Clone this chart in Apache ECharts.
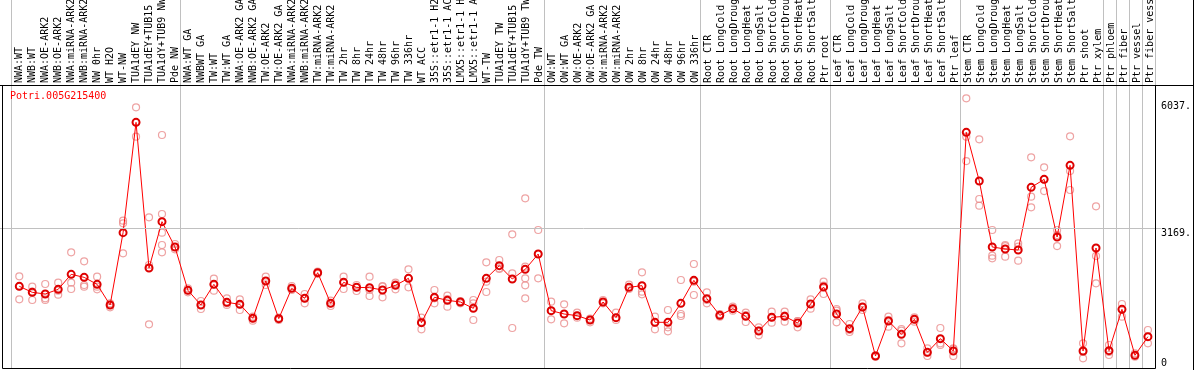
<!DOCTYPE html>
<html>
<head>
<meta charset="utf-8">
<script src="https://cdn.jsdelivr.net/npm/echarts@6.0.0/dist/echarts.min.js"></script>
<style>
html,body{margin:0;padding:0;background:#fff;}
#chart{width:1194px;height:370px;}
</style>
</head>
<body>
<div id="chart"></div>
<script>
const categories = [
  'NWA:WT','NWB:WT','NWA:OE-ARK2','NWB:OE-ARK2','NWA:miRNA-ARK2','NWB:miRNA-ARK2','NW 0hr','WT H2O','WT-NW','TUA1dEY NW','TUA1dEY+TUB15 NW','TUA1dY+TUB9 NW','Pde NW',
  'NWA:WT GA','NWBWT GA','TW:WT','TW:WT GA','NWA:OE-ARK2 GA','NWB:OE-ARK2 GA','TW:OE-ARK2','TW:OE-ARK2 GA','NWA:miRNA-ARK2 GA','NWB:miRNA-ARK2 GA','TW:miRNA-ARK2','TW:miRNA-ARK2 GA','TW 2hr','TW 8hr','TW 24hr','TW 48hr','TW 96hr','TW 336hr','WT ACC','35S::etr1-1 H2O','35S::etr1-1 ACC','LMX5::etr1-1 H2O','LMX5::etr1-1 ACC','WT-TW','TUA1dEY TW','TUA1dEY+TUB15 TW','TUA1dY+TUB9 TW','Pde TW',
  'OW:WT','OW:WT GA','OW:OE-ARK2','OW:OE-ARK2 GA','OW:miRNA-ARK2','OW:miRNA-ARK2 GA','OW 2hr','OW 8hr','OW 24hr','OW 48hr','OW 96hr','OW 336hr',
  'Root CTR','Root LongCold','Root LongDrought','Root LongHeat','Root LongSalt','Root ShortCold','Root ShortDrought','Root ShortHeat','Root ShortSalt','Ptr root',
  'Leaf CTR','Leaf LongCold','Leaf LongDrought','Leaf LongHeat','Leaf LongSalt','Leaf ShortCold','Leaf ShortDrought','Leaf ShortHeat','Leaf ShortSalt','Ptr leaf',
  'Stem CTR','Stem LongCold','Stem LongDrought','Stem LongHeat','Stem LongSalt','Stem ShortCold','Stem ShortDrought','Stem ShortHeat','Stem ShortSalt','Ptr shoot','Ptr xylem',
  'Ptr phloem','Ptr fiber','Ptr vessel','Ptr fiber vessel'
];

// first category index of each sample group (grey separators)
const groupStarts = [0, 13, 41, 53, 63, 73, 84, 85, 86, 87];

const means = [
  1849, 1713, 1675, 1781, 2120, 2052, 1894, 1426, 3063, 5561, 2264, 3312, 2739,
  1758, 1426, 1894, 1486, 1441, 1124, 1969, 1117, 1803, 1577, 2158, 1464, 1939, 1826, 1818, 1766, 1871, 2030, 1026, 1600, 1532, 1494, 1351, 2030, 2316, 2015, 2233, 2580,
  1298, 1222, 1185, 1086, 1494, 1139, 1826, 1864, 1034, 1034, 1464, 1984,
  1569, 1192, 1343, 1169, 837, 1147, 1169, 1019, 1449, 1833,
  1222, 890, 1381, 272, 1064, 762, 1102, 355, 664, 385,
  5334, 4233, 2739, 2694, 2671, 4089, 4270, 2965, 4587, 385, 2716,
  392, 1328, 287, 709
];

const replicates = [
  [2075, 1849, 1554], [1841, 1728, 1539], [1901, 1577, 1539], [1931, 1750, 1660], [2618, 1931, 1788], [2414, 1879, 1841], [2067, 1841, 1781], [1464, 1426, 1373], [3335, 3274, 2595], [5900, 5561, 5236], [3410, 2331, 988], [5274, 3486, 3063, 2784, 2618], [2807, 2739, 2686],
  [1803, 1758, 1713], [1517, 1426, 1335], [2022, 1894, 1750], [1577, 1464, 1426], [1554, 1441, 1313], [1162, 1124, 1071], [2067, 1969, 1879], [1139, 1117, 1087], [1856, 1803, 1766], [1675, 1577, 1464], [2180, 2158, 2128], [1524, 1464, 1403], [2067, 1939, 1788], [1879, 1826, 1743], [2067, 1766, 1630], [1856, 1841, 1600], [1931, 1894, 1781], [2233, 2030, 1826], [1139, 1049, 875], [1766, 1577, 1464], [1637, 1562, 1388], [1517, 1494, 1464], [1539, 1464, 1086], [2392, 1954, 1720], [2445, 2256, 2241], [3025, 2143, 905], [3840, 2294, 2030, 1871, 1577], [3124, 2580, 2030],
  [1501, 1298, 1102], [1441, 1222, 1011], [1252, 1185, 1139], [1117, 1086, 1034], [1539, 1494, 1464], [1252, 1139, 1086], [1886, 1826, 1788], [2165, 1728, 1667], [1162, 1034, 875], [1313, 920, 830], [1992, 1222, 1177], [2354, 1954, 1652],
  [1713, 1539, 1464], [1222, 1192, 1162], [1388, 1343, 1298], [1252, 1200, 1041], [920, 845, 739], [1275, 1147, 1026], [1275, 1185, 1049], [1064, 1064, 920], [1554, 1449, 1343], [1954, 1864, 1675],
  [1335, 1298, 1034], [996, 860, 815], [1464, 1373, 1313], [287, 272, 257], [1162, 1086, 936], [883, 845, 558], [1147, 1102, 1049], [445, 347, 272], [905, 558, 521], [445, 430, 272],
  [6104, 5236, 4685], [5176, 3825, 3674], [3124, 2543, 2482], [2784, 2761, 2520], [2822, 2746, 2429], [4768, 3878, 3637], [4542, 4263, 4006], [3124, 3010, 2761], [5244, 4459, 4029], [558, 370, 219], [3659, 2535, 1916],
  [521, 362, 294], [1449, 1328, 1162], [332, 287, 256], [860, 709, 558]
];

const yTickLabels = [3169, 6037];
const yZeroLabel = [0];
const refLineValue = 3169;
const geneId = 'Potri.005G215400';
const yMax = 6406;

const MONO = '"DejaVu Sans Mono", "Liberation Mono", monospace';
const repPoints = [];
replicates.forEach((arr, i) => arr.forEach(v => repPoints.push([i, v])));

const chart = echarts.init(document.getElementById('chart'), null, {renderer: 'canvas'});
chart.setOption({
  animation: false,
  backgroundColor: '#fff',
  title: {
    text: geneId, left: 10, top: 91, padding: 0,
    textStyle: {color: '#ff0000', fontSize: 10, fontFamily: MONO, fontWeight: 'normal'}
  },
  grid: [
    {left: 12.8, width: 1144, top: 0, height: 85},
    {left: 12.8, width: 1144, top: 85, bottom: 2},
    {left: 11.3, width: 1144, top: 0, bottom: 2}
  ],
  xAxis: [
    {
      type: 'category', gridIndex: 0, data: categories, position: 'bottom',
      axisLine: {show: false}, axisTick: {show: false}, splitLine: {show: false},
      axisLabel: {inside: true, rotate: 90, interval: 0, margin: 2, align: 'left', verticalAlign: 'middle',
        fontFamily: MONO, fontSize: 10, color: '#000'}
    },
    {type: 'category', gridIndex: 1, data: categories, show: false},
    {
      type: 'category', gridIndex: 2, data: categories,
      axisLine: {show: false}, axisTick: {show: false}, axisLabel: {show: false},
      splitLine: {show: true, interval: (i) => groupStarts.indexOf(i) >= 0, lineStyle: {color: '#c0c0c0', width: 1}}
    }
  ],
  yAxis: [
    {type: 'value', gridIndex: 0, show: false},
    {
      type: 'value', gridIndex: 1, position: 'right', offset: -1.5, min: 0, max: yMax,
      axisLine: {show: false}, splitLine: {show: false},
      axisTick: {show: true, customValues: [refLineValue], length: 8, lineStyle: {color: '#c0c0c0'}},
      axisLabel: {customValues: yTickLabels, formatter: v => v + '.', verticalAlign: 'top', margin: 8,
        fontFamily: MONO, fontSize: 10, color: '#000'}
    },
    {
      type: 'value', gridIndex: 1, position: 'right', offset: -1.5, min: 0, max: yMax,
      axisLine: {show: false}, splitLine: {show: false}, axisTick: {show: false},
      axisLabel: {customValues: yZeroLabel, verticalAlign: 'bottom', margin: 8,
        fontFamily: MONO, fontSize: 10, color: '#000'}
    },
    {
      type: 'value', gridIndex: 1, position: 'left', offset: 12.8, min: 0, max: yMax,
      axisLine: {show: false}, splitLine: {show: false}, axisLabel: {show: false},
      axisTick: {show: true, inside: true, customValues: [refLineValue], length: 13, lineStyle: {color: '#c0c0c0'}}
    },
    {type: 'value', gridIndex: 2, show: false}
  ],
  series: [
    {
      type: 'scatter', xAxisIndex: 1, yAxisIndex: 1, data: repPoints, silent: true, z: 2,
      symbol: 'circle', symbolSize: 7,
      itemStyle: {color: 'rgba(0,0,0,0)', borderColor: '#ea8c8c', borderWidth: 1.2},
      markLine: {
        silent: true, symbol: 'none', label: {show: false},
        lineStyle: {color: '#c0c0c0', type: 'solid', width: 1},
        data: [{yAxis: refLineValue}]
      }
    },
    {
      type: 'line', xAxisIndex: 1, yAxisIndex: 1, data: means, silent: true, z: 3,
      symbol: 'circle', symbolSize: 7, showAllSymbol: true,
      lineStyle: {color: '#ff0000', width: 1},
      itemStyle: {color: 'rgba(0,0,0,0)', borderColor: '#dd0000', borderWidth: 2}
    }
  ],
  graphic: [
    {type: 'line', z: 100, shape: {x1: 0, y1: 85.5, x2: 1194, y2: 85.5}, style: {stroke: '#000', lineWidth: 1}},
    {type: 'rect', z: 100, shape: {x: 2.5, y: 85.5, width: 1153, height: 283}, style: {stroke: '#000', fill: null, lineWidth: 1}},
    {type: 'line', z: 100, shape: {x1: 1193.5, y1: 0, x2: 1193.5, y2: 370}, style: {stroke: '#000', lineWidth: 1}}
  ]
});
</script>
</body>
</html>
